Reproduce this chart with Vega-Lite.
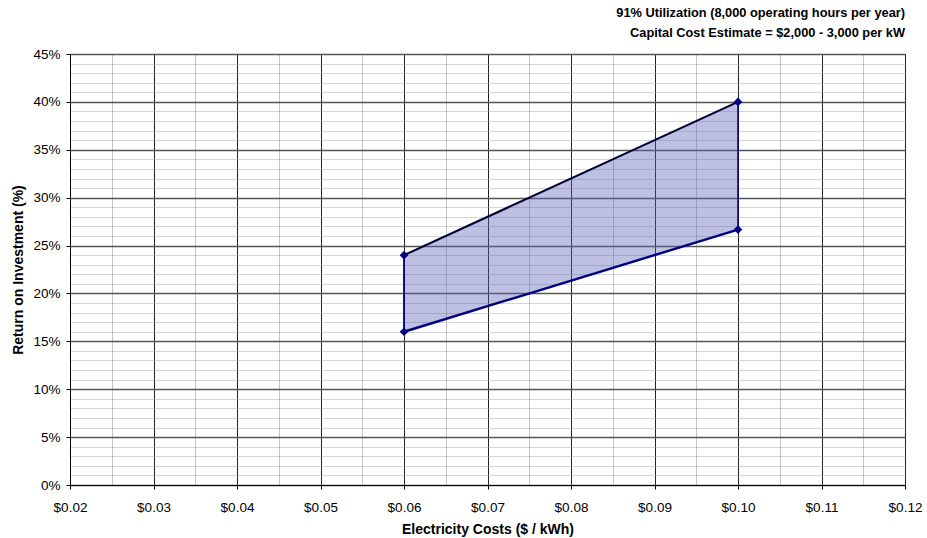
{
  "$schema": "https://vega.github.io/schema/vega-lite/v6.json",
  "autosize": {"type": "none"},
  "width": 835,
  "height": 431,
  "padding": {"left": 70, "top": 54, "right": 22, "bottom": 53},
  "background": "white",
  "config": {
    "font": "Liberation Sans",
    "view": {"stroke": "#444", "strokeWidth": 1}
  },
  "title": {
    "text": ["91% Utilization (8,000 operating hours per year)", "Capital Cost Estimate = $2,000 - 3,000 per kW"],
    "anchor": "end",
    "frame": "group",
    "fontSize": 12.8,
    "fontWeight": "bold",
    "color": "#000",
    "lineHeight": 20,
    "offset": 7
  },
  "datasets": {
    "band": [
      {"cost": 0.06, "low": 0.16, "high": 0.24},
      {"cost": 0.10, "low": 0.2667, "high": 0.40}
    ],
    "edges": [
      {"edge": "low", "cost": 0.06, "roi": 0.16, "ord": 1},
      {"edge": "low", "cost": 0.10, "roi": 0.2667, "ord": 2},
      {"edge": "high", "cost": 0.06, "roi": 0.24, "ord": 1},
      {"edge": "high", "cost": 0.10, "roi": 0.40, "ord": 2},
      {"edge": "left", "cost": 0.06, "roi": 0.16, "ord": 1},
      {"edge": "left", "cost": 0.06, "roi": 0.24, "ord": 2},
      {"edge": "right", "cost": 0.10, "roi": 0.2667, "ord": 1},
      {"edge": "right", "cost": 0.10, "roi": 0.40, "ord": 2}
    ],
    "vertices": [
      {"cost": 0.06, "roi": 0.16},
      {"cost": 0.06, "roi": 0.24},
      {"cost": 0.10, "roi": 0.2667},
      {"cost": 0.10, "roi": 0.40}
    ]
  },
  "encoding": {
    "x": {
      "field": "cost", "type": "quantitative",
      "scale": {"domain": [0.02, 0.12], "nice": false, "zero": false},
      "axis": {
        "title": "Electricity Costs ($ / kWh)",
        "titleFontSize": 14, "titleFontWeight": "bold", "titleColor": "#000", "titlePadding": 9,
        "values": [0.02, 0.025, 0.03, 0.035, 0.04, 0.045, 0.05, 0.055, 0.06, 0.065, 0.07, 0.075, 0.08, 0.085, 0.09, 0.095, 0.10, 0.105, 0.11, 0.115, 0.12],
        "labelExpr": "round(datum.value*1000)%10==0 ? format(datum.value,'$.2f') : ''",
        "labelFontSize": 13.5, "labelColor": "#000", "labelPadding": 11, "labelFlush": false, "labelOverlap": false,
        "domainColor": "#000", "tickColor": "#000", "tickSize": 4,
        "tickOpacity": {"condition": {"test": "round(datum.value*1000)%10==0", "value": 1}, "value": 0},
        "grid": true,
        "gridColor": {"condition": {"test": "round(datum.value*1000)%10==0", "value": "#222"}, "value": "#8a8a8a"},
        "gridDash": {"condition": {"test": "round(datum.value*1000)%10==0", "value": []}, "value": [1, 1]},
        "gridOpacity": 1
      }
    },
    "y": {
      "type": "quantitative",
      "scale": {"domain": [0, 0.45], "nice": false},
      "axis": {
        "title": "Return on Investment (%)",
        "titleFontSize": 14, "titleFontWeight": "bold", "titleColor": "#000", "titlePadding": 7,
        "values": [0, 0.01, 0.02, 0.03, 0.04, 0.05, 0.06, 0.07, 0.08, 0.09, 0.10, 0.11, 0.12, 0.13, 0.14, 0.15, 0.16, 0.17, 0.18, 0.19, 0.20, 0.21, 0.22, 0.23, 0.24, 0.25, 0.26, 0.27, 0.28, 0.29, 0.30, 0.31, 0.32, 0.33, 0.34, 0.35, 0.36, 0.37, 0.38, 0.39, 0.40, 0.41, 0.42, 0.43, 0.44, 0.45],
        "labelExpr": "round(datum.value*100)%5==0 ? format(datum.value,'.0%') : ''",
        "labelFontSize": 13.5, "labelColor": "#000", "labelPadding": 6, "labelOverlap": false, "labelFlush": false,
        "domainColor": "#000", "tickColor": "#000", "tickSize": 4,
        "tickOpacity": {"condition": {"test": "round(datum.value*100)%5==0", "value": 1}, "value": 0},
        "grid": true,
        "gridColor": {"condition": {"test": "round(datum.value*100)%5==0", "value": "#555"}, "value": "#aaa"},
        "gridDash": {"condition": {"test": "round(datum.value*100)%5==0", "value": []}, "value": [1, 1]},
        "gridWidth": {"condition": {"test": "round(datum.value*100)%5==0", "value": 1.6}, "value": 1},
        "gridOpacity": 1
      }
    }
  },
  "layer": [
    {
      "data": {"name": "band"},
      "mark": {"type": "area", "color": "#5c62b4", "opacity": 0.4},
      "encoding": {
        "y": {"field": "low"},
        "y2": {"field": "high"}
      }
    },
    {
      "data": {"name": "edges"},
      "mark": {"type": "line"},
      "encoding": {
        "y": {"field": "roi"},
        "detail": {"field": "edge"},
        "order": {"field": "ord"},
        "strokeWidth": {
          "field": "edge", "type": "nominal",
          "scale": {"domain": ["low", "high", "left", "right"], "range": [2.4, 1.5, 2, 2]},
          "legend": null
        },
        "color": {
          "field": "edge", "type": "nominal",
          "scale": {"domain": ["low", "high", "left", "right"], "range": ["#000080", "#000033", "#000080", "#000080"]},
          "legend": null
        }
      }
    },
    {
      "data": {"name": "vertices"},
      "mark": {"type": "point", "shape": "diamond", "filled": true, "size": 75, "color": "#000080", "opacity": 1},
      "encoding": {
        "y": {"field": "roi"}
      }
    }
  ]
}
